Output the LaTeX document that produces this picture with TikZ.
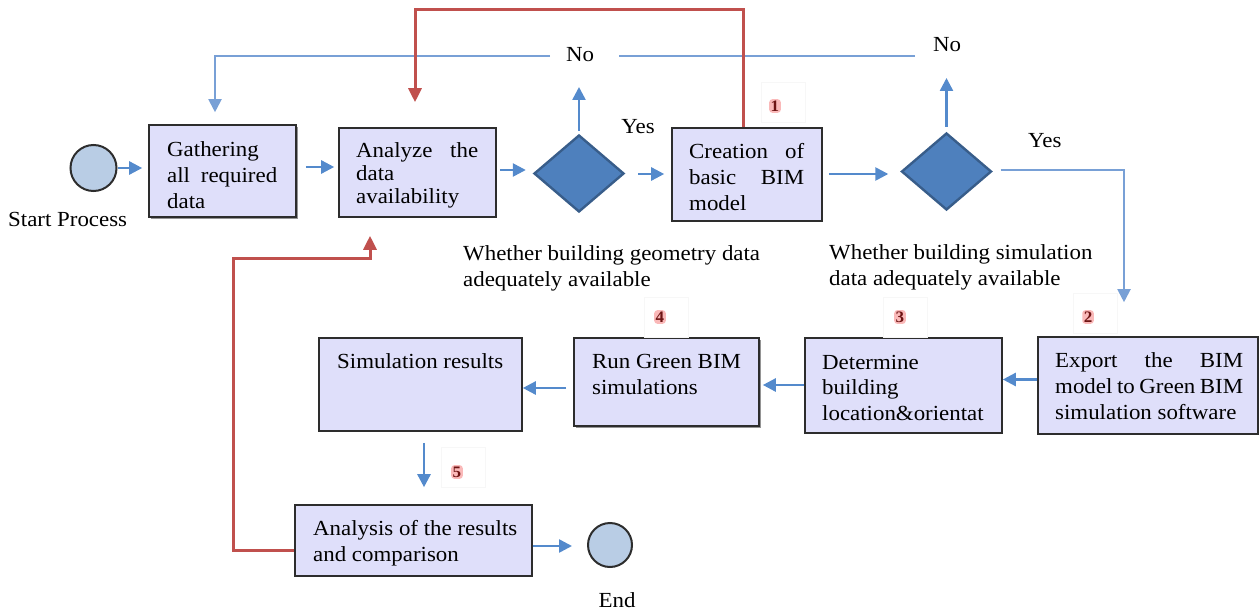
\documentclass[tikz,border=0pt]{standalone}
\usepackage{fontspec}
\setmainfont{Liberation Serif}[FakeStretch=1.065]
\usetikzlibrary{arrows.meta,shapes.geometric,shadows}
\definecolor{boxfill}{RGB}{223,223,250}
\definecolor{boxline}{RGB}{45,45,45}
\definecolor{diafill}{RGB}{78,128,189}
\definecolor{dialine}{RGB}{56,93,138}
\definecolor{circfill}{RGB}{185,205,229}
\definecolor{arrblue}{RGB}{84,138,204}
\definecolor{lineblue}{RGB}{120,160,214}
\definecolor{redline}{RGB}{192,80,77}
\definecolor{glow}{RGB}{250,185,185}
\definecolor{numtext}{RGB}{110,20,20}
\begin{document}
\begin{tikzpicture}[x=1pt,y=-1pt,
  box/.style={draw=boxline, line width=1.6pt, fill=boxfill, inner sep=0pt},
  shbox/.style={box, drop shadow={shadow xshift=1.5pt, shadow yshift=-1.5pt, opacity=0.6, fill=black!70}},
  dia/.style={diamond, draw=dialine, line width=2.4pt, fill=diafill, minimum width=90pt, minimum height=77pt, inner sep=0pt},
  endpt/.style={circle, draw=boxline, line width=2pt, fill=circfill, inner sep=0pt},
  txt/.style={inner sep=0pt, font=\fontsize{21.5}{26}\selectfont},
  num/.style={inner sep=1.5pt, fill=glow, rounded corners=3pt, text=numtext, font=\fontsize{16}{16}\selectfont\bfseries},
  numframe/.style={draw=black!3, line width=0.6pt, minimum width=44pt, minimum height=40pt, inner sep=0pt},
  arr/.style={draw=arrblue, line width=2.5pt, -{Triangle[length=13pt,width=13pt]}},
  fbl/.style={draw=lineblue, line width=2pt},
  fbarr/.style={fbl, -{Triangle[length=13pt,width=13pt]}, draw=lineblue},
  rarr/.style={draw=redline, line width=3pt, -{Triangle[length=14pt,width=13pt]}}
]
\useasboundingbox (0,0) rectangle (1259,610);

% ---- top row ----
\node[endpt, minimum size=46pt] (st) at (93.5,168) {};
\node[txt, anchor=base west] (stT) at (8,226) {Start Process};

\node[shbox, minimum width=147pt, minimum height=92pt] (ga) at (222.5,171) {};
\node[txt, anchor=base west] (gaT) at (167,156) {\parbox[t]{110pt}{Gathering\\\makebox[110pt][s]{all required}\\data}};

\node[box, minimum width=157pt, minimum height=89pt] (an) at (417.5,172.5) {};
\node[txt, anchor=base west, font=\fontsize{21.5}{23.5}\selectfont] (anT) at (356,157) {\parbox[t]{122pt}{\makebox[122pt][s]{Analyze the}\\data\\availability}};

\node[dia] (d1) at (579,173.5) {};

\node[box, minimum width=150pt, minimum height=93pt] (cr) at (747,174.5) {};
\node[txt, anchor=base west] (crT) at (689,158) {\parbox[t]{115pt}{\makebox[115pt][s]{Creation of}\\\makebox[115pt][s]{basic BIM}\\model}};

\node[dia] (d2) at (946.5,171.5) {};

% ---- bottom rows ----
\node[box, minimum width=220pt, minimum height=97pt] (ex) at (1148,385.5) {};
\node[txt, anchor=base west] (exT) at (1055,367) {\parbox[t]{188pt}{\makebox[188pt][s]{Export the BIM}\\model to Green BIM\\simulation software}};

\node[box, minimum width=197pt, minimum height=95pt] (de) at (903.5,385.5) {};
\node[txt, anchor=base west, font=\fontsize{21.5}{25.5}\selectfont] (deT) at (822,369) {\parbox[t]{175pt}{Determine\\building\\location\&orientat}};

\node[shbox, minimum width=185pt, minimum height=88pt] (ru) at (666.5,382) {};
\node[txt, anchor=base west] (ruT) at (592,368) {\parbox[t]{160pt}{Run Green BIM\\simulations}};

\node[box, minimum width=203pt, minimum height=93pt] (si) at (420.5,384.5) {};
\node[txt, anchor=base west] (siT) at (337,368) {Simulation results};

\node[box, minimum width=237pt, minimum height=71pt] (aa) at (413.5,540.5) {};
\node[txt, anchor=base west] (aaT) at (313,535) {\parbox[t]{220pt}{Analysis of the results\\and comparison}};

\node[endpt, minimum size=44pt] (en) at (610,545) {};
\node[txt, anchor=base] (enT) at (617,607) {End};

% ---- captions and labels ----
\node[txt, anchor=base west] (c1) at (463,260) {\parbox[t]{320pt}{Whether building geometry data\\adequately available}};
\node[txt, anchor=base west] (c2) at (829,259) {\parbox[t]{300pt}{Whether building simulation\\data adequately available}};
\node[txt, anchor=base] (no1) at (580,62) {No};
\node[txt, anchor=base] (no2) at (947,52) {No};
\node[txt, anchor=base] (yes1) at (638,133) {Yes};
\node[txt, anchor=base west] (yes2) at (1028,147) {Yes};

% ---- step numbers ----
\node[numframe] (f1) at (783,102) {};
\node[num] (n1) at (775,106) {1};
\node[numframe] (f2) at (1095,313) {};
\node[num] (n2) at (1088,317) {2};
\node[numframe] (f3) at (905,317) {};
\node[num] (n3) at (900,317) {3};
\node[numframe] (f4) at (666,317) {};
\node[num] (n4) at (660,317) {4};
\node[numframe] (f5) at (463,467) {};
\node[num] (n5) at (457,472) {5};

% ---- helper coordinates ----
\coordinate (d1up) at (579,87);
\coordinate (d2up) at (946.5,78);
\coordinate (yc) at (1124,170);
\coordinate (nL) at (550,56);
\coordinate (nR) at (619,56);
\coordinate (nE) at (915,56);
\coordinate (r1) at (743,10);
\coordinate (r2) at (415,10);
\coordinate (q1) at (233,550);
\coordinate (q2) at (233,258);
\coordinate (q3) at (370,258);

% ---- connectors ----
\draw[arr, shorten >=6pt] (st.east) -- ([yshift=3pt]ga.west);
\draw[arr, shorten <=9pt, shorten >=4pt] ([yshift=4pt]ga.east) -- ([yshift=5.5pt]an.west);
\draw[arr, shorten <=3pt, shorten >=7pt] ([yshift=2.5pt]an.east) -- ([yshift=3.5pt]d1.west);
\draw[arr, shorten <=3pt] (d1.north) -- (d1up);
\draw[arr, shorten <=13pt, shorten >=7pt] ([yshift=-0.5pt]d1.east) -- ([yshift=0.5pt]cr.west);
\draw[arr, shorten <=6pt, shorten >=12pt] ([yshift=0.5pt]cr.east) -- ([yshift=-2.5pt]d2.west);
\draw[arr, shorten <=5pt] (d2.north) -- (d2up);
\draw[fbarr, shorten <=8pt, shorten >=34pt] ([yshift=1.5pt]d2.east) -- (yc) -- (yc |- ex.north);
\draw[arr] ([yshift=6pt]ex.west) -- ([yshift=6pt]de.east);
\draw[arr, shorten >=3pt] ([yshift=0.5pt]de.west) -- ([yshift=-3pt]ru.east);
\draw[arr, shorten <=7pt] ([yshift=-6pt]ru.west) -- ([yshift=-3.5pt]si.east);
\draw[arr, shorten <=11pt, shorten >=17pt] ([xshift=3.5pt]si.south) -- ([xshift=10.5pt]aa.north);
\draw[arr, shorten >=15pt] ([yshift=-5.5pt]aa.east) -- ([yshift=-1pt]en.west);

\draw[fbl] (nE) -- (nR);
\draw[fbarr, shorten >=12pt] (nL) -| ([xshift=-7.5pt]ga.north);

\draw[rarr, shorten >=25pt] (cr.north -| r1) -- (r1) -- (r2) -- (r2 |- an.north);
\draw[rarr, shorten >=18pt] (aa.west |- q1) -- (q1) -- (q2) -- (q3) -- (q3 |- an.south);
\end{tikzpicture}
\end{document}
